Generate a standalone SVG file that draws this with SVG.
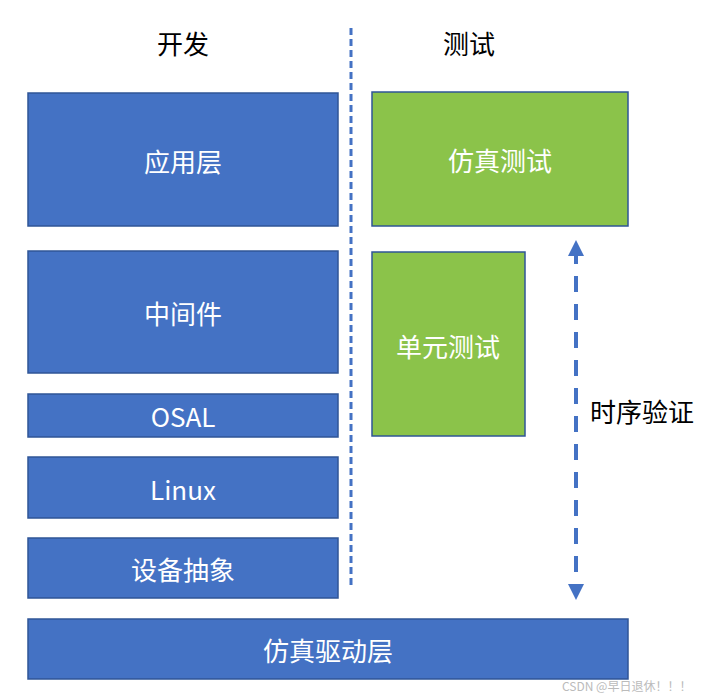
<svg xmlns="http://www.w3.org/2000/svg" width="714" height="698" viewBox="0 0 714 698">
<style>
.b{fill:#4472C4;stroke:#2F5597;stroke-width:1.5}
.g{fill:#8BC34A;stroke:#2F5597;stroke-width:1.5}
.t{font-family:"Noto Sans CJK SC","Noto Sans",sans-serif;font-size:26px;fill:#fff;text-anchor:middle;dominant-baseline:central}
.h{font-family:"Noto Sans CJK SC",sans-serif;font-size:26px;fill:#000;text-anchor:middle;dominant-baseline:central}
</style>
<defs>
<marker id="a" markerWidth="4" markerHeight="4" refX="2" refY="2" orient="auto-start-reverse" markerUnits="strokeWidth"><path d="M0,0L4,2L0,4z" fill="#4472C4"/></marker>
</defs>
<rect width="714" height="698" fill="#fff"/>
<text class="h" x="183" y="42">开发</text>
<text class="h" x="469" y="42">测试</text>
<g id="app"><rect class="b" x="28" y="93" width="310" height="133"/><text class="t" x="183" y="160">应用层</text></g>
<g id="mid"><rect class="b" x="28" y="251" width="310" height="122"/><text class="t" x="183" y="312">中间件</text></g>
<g id="osal"><rect class="b" x="28" y="394" width="310" height="43"/><text class="t" x="183" y="415">OSAL</text></g>
<g id="linux"><rect class="b" x="28" y="457" width="310" height="61"/><text class="t" x="183" y="488">Linux</text></g>
<g id="dev"><rect class="b" x="28" y="538" width="310" height="60"/><text class="t" x="183" y="568">设备抽象</text></g>
<g id="drv"><rect class="b" x="28" y="619" width="600" height="60"/><text class="t" x="328" y="649">仿真驱动层</text></g>
<g id="sim"><rect class="g" x="372" y="92" width="256" height="134"/><text class="t" x="500" y="159">仿真测试</text></g>
<g id="unit"><rect class="g" x="372" y="252" width="153" height="184"/><text class="t" x="448" y="345">单元测试</text></g>
<g id="connectors">
<line x1="351" y1="28" x2="351" y2="587" stroke="#4472C4" stroke-width="3" stroke-dasharray="7,4"/>
<line x1="576" y1="248" x2="576" y2="592" stroke="#4472C4" stroke-width="4" stroke-dasharray="16,12" marker-start="url(#a)" marker-end="url(#a)"/>
</g>
<text x="590" y="410" style="font-family:'Noto Sans CJK SC',sans-serif;font-size:26px;fill:#000;dominant-baseline:central">时序验证</text>
<text x="562" y="685" style="font-family:'Noto Sans CJK SC',sans-serif;font-size:12px;fill:#bbb;dominant-baseline:central">CSDN @早日退休！！！</text>
</svg>
